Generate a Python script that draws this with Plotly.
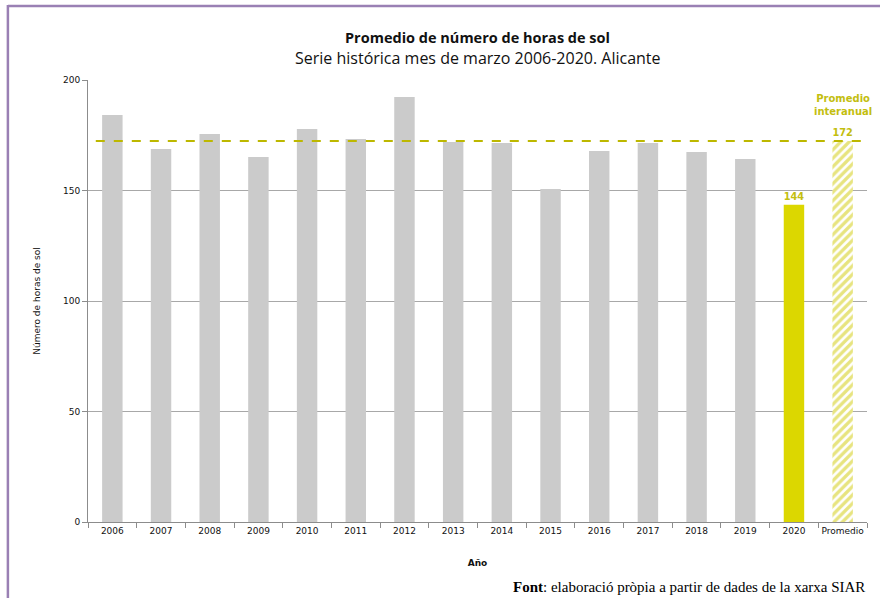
import plotly.graph_objects as go

categories = ["2006", "2007", "2008", "2009", "2010", "2011", "2012", "2013",
              "2014", "2015", "2016", "2017", "2018", "2019", "2020", "Promedio"]
year_values = [184.2, 168.8, 175.6, 165.2, 177.8, 173.3, 192.3, 171.9,
               171.5, 150.7, 167.9, 171.5, 167.4, 164.3]
value_2020 = 143.6
promedio = 172.4
y_ticks = [0, 50, 100, 150, 200]

GRAY = "#cbcbcb"
YELLOW = "#dcd700"
OLIVE = "#bdb800"
LABEL = "#c3be10"

fig = go.Figure()

fig.add_trace(go.Bar(
    x=categories[:14], y=year_values, marker=dict(color=GRAY, line=dict(width=0)),
    hoverinfo="x+y", showlegend=False))
fig.add_trace(go.Bar(
    x=[categories[14]], y=[value_2020], marker=dict(color=YELLOW, line=dict(width=0)),
    text=["<b>144</b>"], textposition="outside", cliponaxis=False,
    textfont=dict(family="DejaVu Sans", size=10, color=LABEL),
    showlegend=False))
fig.add_trace(go.Bar(
    x=[categories[15]], y=[promedio],
    marker=dict(color="white", line=dict(width=0),
                pattern=dict(shape="/", fgcolor="#cfc900", bgcolor="white",
                             size=6, solidity=0.55)),
    text=["<b>172</b>"], textposition="outside", cliponaxis=False,
    textfont=dict(family="DejaVu Sans", size=10, color=LABEL),
    showlegend=False))

fig.add_shape(type="line", xref="paper", yref="y", x0=0.01, x1=0.995,
              y0=promedio, y1=promedio,
              line=dict(color=OLIVE, width=2, dash="dash"), layer="above")

# purple frame
fig.add_shape(type="line", xref="paper", yref="paper",
              x0=(8 - 88) / 778, x1=(8 - 88) / 778, y0=1 + 75 / 442, y1=-0.3,
              line=dict(color="#9a80b4", width=2.5))
fig.add_shape(type="line", xref="paper", yref="paper",
              x0=(8 - 88) / 778, x1=1.1, y0=1 + 74 / 442, y1=1 + 74 / 442,
              line=dict(color="#9a80b4", width=2.5))

fig.add_annotation(xref="paper", yref="paper", x=0.5, y=(522 - 38) / 442,
                   text="<b>Promedio de número de horas de sol</b>", showarrow=False,
                   xanchor="center", yanchor="middle",
                   font=dict(family="Open Sans", size=14.5, color="#111111"))
fig.add_annotation(xref="paper", yref="paper", x=0.5, y=(522 - 58) / 442,
                   text="Serie histórica mes de marzo 2006-2020. Alicante", showarrow=False,
                   xanchor="center", yanchor="middle",
                   font=dict(family="Open Sans", size=16, color="#111111"))
fig.add_annotation(xref="x", yref="paper", x="Promedio", y=(522 - 119) / 442,
                   text="<b>Promedio<br>interanual</b>", showarrow=False,
                   xanchor="center", yanchor="bottom",
                   font=dict(family="DejaVu Sans", size=10, color=LABEL))
fig.add_annotation(xref="paper", yref="paper", x=(510 - 88) / 778, y=-(587 - 522) / 442,
                   text="<b>Font</b>: elaboració pròpia a partir de dades de la xarxa SIAR",
                   showarrow=False, xanchor="left", yanchor="middle",
                   font=dict(family="Liberation Serif", size=15, color="#000000"))

fig.update_layout(
    width=880, height=598,
    margin=dict(l=88, r=13, t=80, b=76),
    paper_bgcolor="white", plot_bgcolor="white",
    barmode="overlay",
    bargap=0.58,
    xaxis=dict(type="category", categoryorder="array", categoryarray=categories,
               range=[-0.5, 15.5], autorange=False,
               automargin=False, tickangle=0,
               showline=True, linecolor="#8c8c8c", linewidth=1,
               ticks="outside", ticklen=5, tickcolor="#8c8c8c",
               tickson="boundaries",
               tickfont=dict(family="DejaVu Sans", size=9, color="#111111"),
               title=dict(text="<b>Año</b>", standoff=24,
                          font=dict(family="DejaVu Sans", size=9, color="#111111")),
               showgrid=False),
    yaxis=dict(range=[0, 200], tickvals=y_ticks, showgrid=True, automargin=False,
               gridcolor="#a8a8a8", gridwidth=1,
               showline=True, linecolor="#8c8c8c", linewidth=1,
               ticks="outside", ticklen=5, tickcolor="#8c8c8c",
               zeroline=False,
               tickfont=dict(family="DejaVu Sans", size=9, color="#111111"),
               title=dict(text="Número de horas de sol", standoff=20,
                          font=dict(family="DejaVu Sans", size=9, color="#111111"))),
)

fig.write_html("out.html", config={"displayModeBar": False},
               post_script="document.body.style.margin='0';")
